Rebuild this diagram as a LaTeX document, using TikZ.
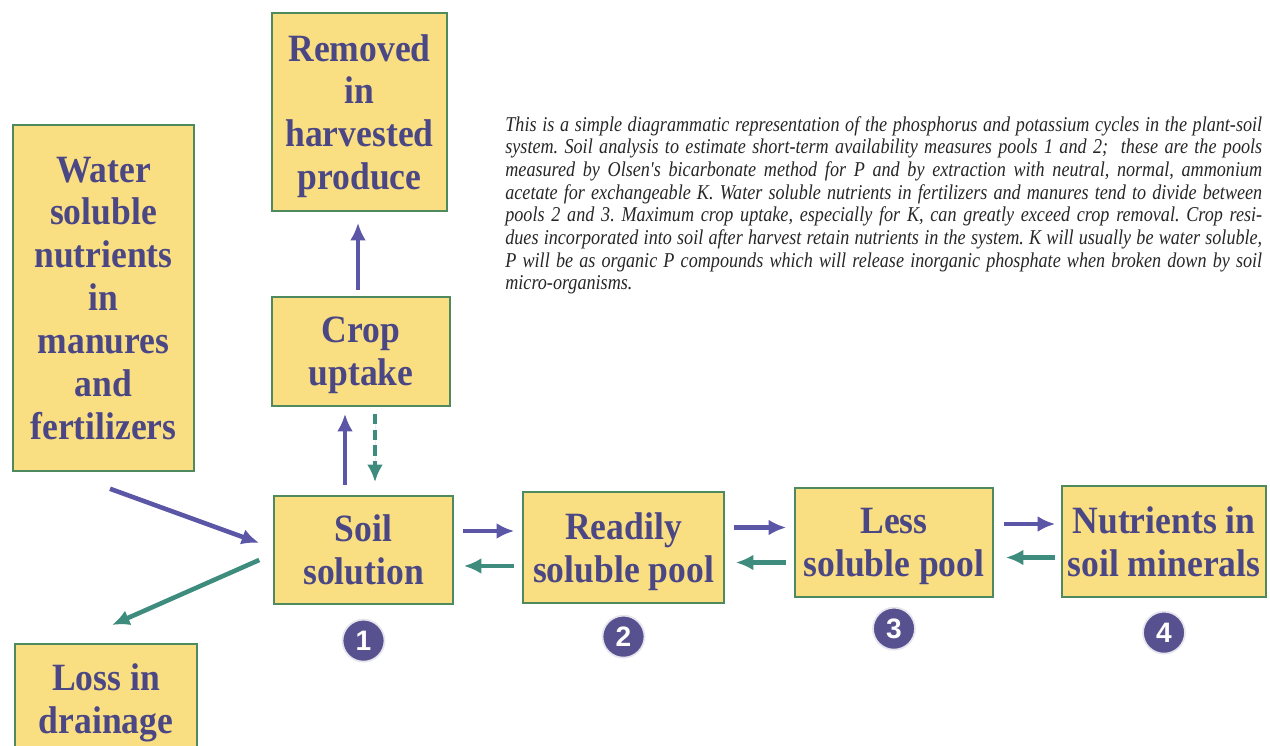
\documentclass[tikz,border=0pt]{standalone}
\usepackage{fontspec}
\setmainfont{Liberation Serif}
\newfontfamily\boxfont[FakeStretch=0.92]{Liberation Serif}
\newfontfamily\notefont[FakeStretch=0.86]{Liberation Serif}
\newfontfamily\numfont{Liberation Sans}
\usepackage{xcolor}
\usetikzlibrary{arrows.meta,positioning,calc}

\definecolor{boxfill}{HTML}{F9DF82}
\definecolor{boxline}{HTML}{4E8A5E}
\definecolor{boxtext}{HTML}{4B4784}
\definecolor{uparrow}{HTML}{5B56A5}
\definecolor{downarrow}{HTML}{3E8C7E}
\definecolor{numfill}{HTML}{57528F}

\begin{document}
\begin{tikzpicture}[
    x=0.02cm, y=-0.02cm,
    box/.style={rectangle, draw=boxline, fill=boxfill, line width=0.9pt, align=center,
        text=boxtext, inner sep=0pt, text depth=0pt,
        font=\boxfont\bfseries\fontsize{22}{24.4}\selectfont},
    numc/.style={circle, fill=numfill, draw=white!85!numfill, line width=1pt,
        minimum size=0.84cm, inner sep=0pt, text=white,
        font=\numfont\bfseries\fontsize{16}{16}\selectfont},
    parrow/.style={-{Latex[length=10pt,width=9pt]}, line width=2.6pt, draw=uparrow, fill=uparrow},
    garrow/.style={-{Latex[length=10pt,width=9pt]}, line width=2.6pt, draw=downarrow, fill=downarrow}
]
    \useasboundingbox (0,0) rectangle (1270,746);

    % boxes
    \node[box, minimum width=3.5cm, minimum height=3.96cm] (removed) at (359.5,112)
        {Removed\\in\\harvested\\produce};
    \node[box, minimum width=3.62cm, minimum height=6.92cm] (water) at (103.5,298)
        {Water\\soluble\\nutrients\\in\\manures\\and\\fertilizers};
    \node[box, minimum width=3.56cm, minimum height=2.18cm] (crop) at (361,351.5)
        {Crop\\uptake};
    \node[box, minimum width=3.58cm, minimum height=2.16cm] (soil) at (363.5,550)
        {Soil\\solution};
    \node[box, minimum width=4.02cm, minimum height=2.22cm] (ready) at (623.5,547.5)
        {Readily\\soluble pool};
    \node[box, minimum width=3.96cm, minimum height=2.18cm] (less) at (894,542.5)
        {Less\\soluble pool};
    \node[box, minimum width=4.08cm, minimum height=2.22cm] (minerals) at (1164,541.5)
        {Nutrients in\\soil minerals};
    \node[box, minimum width=3.64cm, anchor=north, inner ysep=0.4cm, text depth=1.2cm]
        (loss) at (106,643) {Loss in\\drainage};

    % pool numbers
    \node[numc, below=0.28cm of soil] (n1) {1};
    \node[numc, below=0.22cm of ready] (n2) {2};
    \node[numc, below=0.18cm of less] (n3) {3};
    \node[numc, below=0.26cm of minerals] (n4) {4};

    % note
    \node[anchor=north west, text width=15.14cm, align=justify, inner sep=0pt,
        font=\notefont\itshape\fontsize{12}{12.9}\selectfont\frenchspacing, text=black!85]
        (note) at (505,116) {This is a simple diagrammatic representation of the phosphorus and potassium cycles in the plant-soil\linebreak
        system. Soil analysis to estimate short-term availability measures pools 1 and 2;\ \ these are the pools\linebreak
        measured by Olsen's bicarbonate method for P and by extraction with neutral, normal, ammonium\linebreak
        acetate for exchangeable K. Water soluble nutrients in fertilizers and manures tend to divide between\linebreak
        pools 2 and 3. Maximum crop uptake, especially for K, can greatly exceed crop removal. Crop resi-\linebreak
        dues incorporated into soil after harvest retain nutrients in the system. K will usually be water soluble,\linebreak
        P will be as organic P compounds which will release inorganic phosphate when broken down by soil\linebreak
        micro-organisms.};

    % flows
    \draw[parrow] ($(water.south)+(0.13cm,-0.34cm)$) -- ($(soil.west)+(-0.28cm,0.14cm)$);
    \draw[garrow] ($(soil.west)+(-0.28cm,-0.2cm)$) -- ($(loss.north)+(0.12cm,0.36cm)$);
    \draw[parrow] ($(soil.north)+(-0.37cm,0.2cm)$) -- ($(soil.north |- crop.south)+(-0.37cm,-0.14cm)$);
    \draw[garrow, dashed, dash pattern=on 6pt off 3pt] ($(crop.south)+(0.28cm,-0.14cm)$) -- ($(crop.south |- soil.north)+(0.28cm,0.26cm)$);
    \draw[parrow] ($(crop.north)+(-0.06cm,0.12cm)$) -- ($(crop.north |- removed.south)+(-0.06cm,-0.22cm)$);

    \draw[parrow] ($(soil.east)+(0.18cm,0.38cm)$) -- ($(soil.east -| ready.west)+(-0.16cm,0.38cm)$);
    \draw[garrow] ($(soil.east -| ready.west)+(-0.16cm,-0.32cm)$) -- ($(soil.east)+(0.2cm,-0.32cm)$);
    \draw[parrow] ($(ready.east)+(0.18cm,0.4cm)$) -- ($(ready.east -| less.west)+(-0.16cm,0.4cm)$);
    \draw[garrow] ($(ready.east -| less.west)+(-0.16cm,-0.3cm)$) -- ($(ready.east)+(0.22cm,-0.3cm)$);
    \draw[parrow] ($(less.east)+(0.2cm,0.37cm)$) -- ($(less.east -| minerals.west)+(-0.12cm,0.37cm)$);
    \draw[garrow] ($(less.east -| minerals.west)+(-0.12cm,-0.3cm)$) -- ($(less.east)+(0.24cm,-0.3cm)$);
\end{tikzpicture}
\end{document}
